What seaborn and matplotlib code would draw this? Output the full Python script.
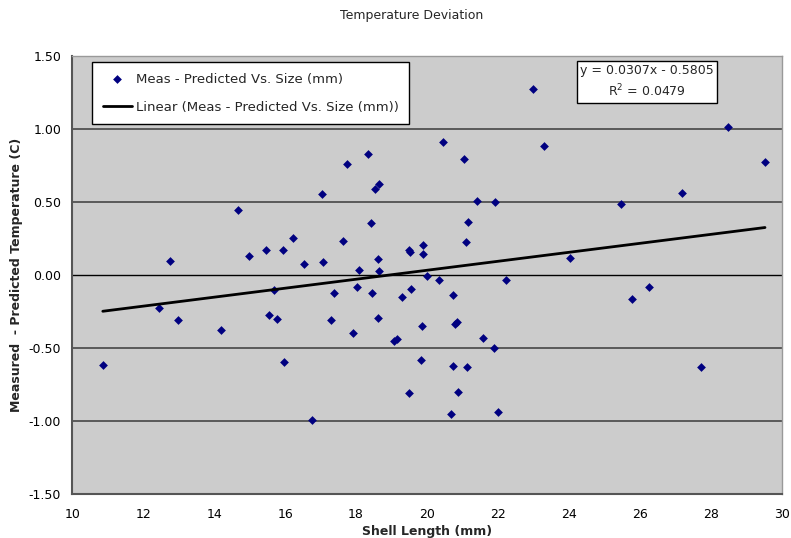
import numpy as np
import pandas as pd
import matplotlib
matplotlib.use("Agg")
import matplotlib.pyplot as plt
import seaborn as sns

# dados
shell_length = [10.86, 12.45, 12.75, 12.98, 14.19, 14.66, 14.99, 15.46, 15.55, 15.69,
                15.76, 15.94, 15.98, 16.21, 16.53, 16.77, 17.03, 17.08, 17.29, 17.38,
                17.64, 17.74, 17.91, 18.03, 18.07, 18.33, 18.42, 18.46, 18.53, 18.61,
                18.61, 18.65, 18.66, 19.06, 19.15, 19.29, 19.48, 19.50, 19.52, 19.55,
                19.83, 19.86, 19.88, 19.88, 20.01, 20.35, 20.44, 20.68, 20.72, 20.74,
                20.80, 20.85, 20.87, 21.03, 21.09, 21.13, 21.15, 21.41, 21.57, 21.89,
                21.93, 21.99, 22.23, 22.99, 23.30, 24.03, 25.46, 25.79, 26.26, 27.18,
                27.73, 28.49, 29.53]
temp_dev = [-0.614, -0.226, 0.100, -0.308, -0.375, 0.447, 0.128, 0.173, -0.272, -0.103,
            -0.297, 0.169, -0.591, 0.256, 0.077, -0.991, 0.555, 0.089, -0.304, -0.119,
            0.233, 0.760, -0.395, -0.078, 0.034, 0.829, 0.356, -0.119, 0.587, 0.112,
            -0.290, 0.030, 0.623, -0.452, -0.438, -0.148, -0.804, 0.171, 0.160, -0.096,
            -0.584, -0.351, 0.208, 0.142, -0.005, -0.034, 0.911, -0.950, -0.139, -0.621,
            -0.336, -0.320, -0.797, 0.795, 0.228, -0.630, 0.361, 0.505, -0.432, -0.500,
            0.500, -0.938, -0.034, 1.272, 0.884, 0.116, 0.486, -0.164, -0.084, 0.564,
            -0.630, 1.016, 0.772]

# linha de tendência (equação mostrada no gráfico)
slope = 0.0307
intercept = -0.5805
eq_text = "y = 0.0307x - 0.5805\nR$^2$ = 0.0479"

x_ticks = [10, 12, 14, 16, 18, 20, 22, 24, 26, 28, 30]
y_ticks = [-1.5, -1.0, -0.5, 0.0, 0.5, 1.0, 1.5]

df = pd.DataFrame({"Shell Length (mm)": shell_length, "Dev": temp_dev})

sns.set_theme(style="white")
plt.rcParams['font.family'] = ['DejaVu Sans']

fig = plt.figure(figsize=(7.91, 5.38), dpi=100)
ax = fig.add_axes([0.0914, 0.0812, 0.8968, 0.8147])
ax.set_facecolor("#CCCCCC")

for yv in y_ticks[1:-1]:
    ax.axhline(yv, color="black" if yv == 0 else "#3a3a3a", lw=1.0 if yv == 0 else 1.1, zorder=1)

sns.scatterplot(data=df, x="Shell Length (mm)", y="Dev", marker="D", color="#000080",
                s=20, edgecolor="#000080", linewidth=0, ax=ax, zorder=3,
                label="Meas - Predicted Vs. Size (mm)")

xl = np.array([min(shell_length), max(shell_length)])
sns.lineplot(x=xl, y=slope * xl + intercept, color="black", lw=2, ax=ax, zorder=4,
             label="Linear (Meas - Predicted Vs. Size (mm))")

ax.set_xlim(10, 30)
ax.set_ylim(-1.5, 1.5)
ax.set_xticks(x_ticks)
ax.set_yticks(y_ticks)
ax.set_yticklabels([f"{v:.2f}" for v in y_ticks])
ax.tick_params(axis="both", direction="out", length=4, width=1, color="#555555",
               labelsize=9, colors="black", pad=4)
ax.tick_params(axis="x", pad=6)

for side in ["left", "bottom"]:
    ax.spines[side].set_color("#555555")
    ax.spines[side].set_linewidth(1.5)
for side in ["top", "right"]:
    ax.spines[side].set_color("#999999")
    ax.spines[side].set_linewidth(1)

ax.set_xlabel("Shell Length (mm)", fontsize=9, fontweight="bold", labelpad=3)
ax.set_ylabel("Measured  - Predicted Temperature (C)", fontsize=9, fontweight="bold", labelpad=4)

leg = ax.legend(loc="upper left", bbox_to_anchor=(0.028, 0.986), fontsize=9.5, frameon=True,
                fancybox=False, framealpha=1, edgecolor="black", borderpad=0.8,
                labelspacing=1.15, handlelength=2.2, handletextpad=0.3, borderaxespad=0)
leg.get_frame().set_linewidth(1)

ax.text(0.8105, 0.941, eq_text, transform=ax.transAxes, ha="center", va="center",
        fontsize=9, linespacing=1.45, zorder=6,
        bbox=dict(boxstyle="square,pad=0.25", fc="white", ec="black", lw=1))

fig.text(0.52, 0.972, "Temperature Deviation", ha="center", va="center", fontsize=9)

fig.savefig("out.png", dpi=100)
